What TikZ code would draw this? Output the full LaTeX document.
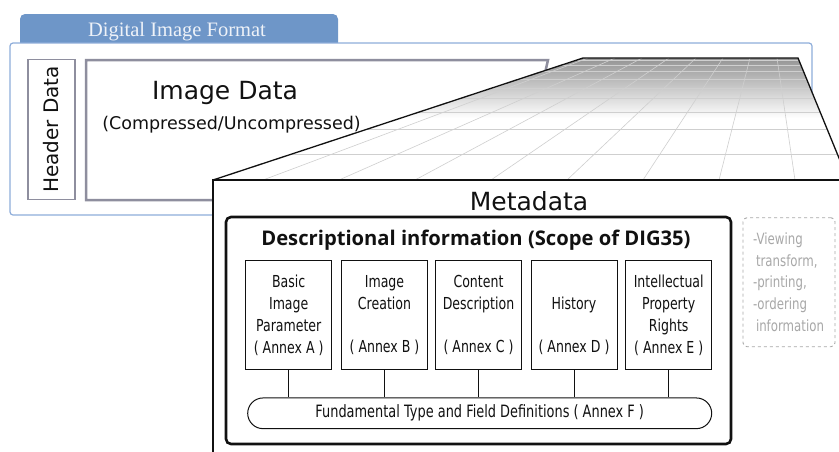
\documentclass[tikz,border=0pt]{standalone}
\usepackage{fontspec}
\usepackage{xcolor}
\usepackage{tikz}
\usetikzlibrary{positioning,calc,shapes.misc}
\newfontfamily\lgfont{DejaVu Sans}
\newfontfamily\cdfont[FakeStretch=0.76]{DejaVu Sans}
\newfontfamily\ttlfont{Open Sans}
\newfontfamily\tabfont{Liberation Serif}
\definecolor{inkK}{HTML}{111111}
\definecolor{cBlue}{HTML}{6E96C8}
\definecolor{lBlue}{HTML}{8EADDA}
\definecolor{tBlue}{HTML}{EEF2F8}
\definecolor{cGray}{HTML}{8E8E9E}
\definecolor{lGray}{HTML}{A8A8A8}
\definecolor{gLine}{HTML}{CFCFCF}

\begin{document}
\begin{tikzpicture}[x=1pt, y=-1pt,
  annexbox/.style={draw=inkK, line width=1pt, fill=white,
    minimum width=86pt, minimum height=109pt, inner sep=0pt,
    align=center, text=inkK, font=\cdfont\fontsize{16.5}{21.7}\selectfont},
  link/.style={draw=inkK, line width=1pt},
  gridline/.style={draw=gLine, line width=0.6pt}]
  \useasboundingbox (0,0) rectangle (839,451);
  \clip (0,0) rectangle (839,451);

  % file format frame with its tab
  \fill[cBlue, rounded corners=5pt] (20,52) -- (20,14) -- (338,14) -- (338,52) -- cycle;
  \node[anchor=base, font=\tabfont\fontsize{20.5}{22}\selectfont, text=tBlue]
    (fmt) at (177,36) {Digital Image Format};
  \draw[lBlue, fill=white, line width=1.2pt, rounded corners=3pt] (10,43) rectangle (812,215);

  \node[draw=cGray, line width=1.4pt, rotate=90, minimum width=140pt, minimum height=47pt,
        inner sep=0pt, font=\lgfont\fontsize{20}{22}\selectfont, text=inkK]
    (header) at (51.5,129.5) {Header Data};
  \draw[cGray, line width=2.5pt] (86,200) -- (86,60) -- (548,60) -- (525,160) -- (500,200) -- cycle;
  \node[anchor=base, font=\lgfont\fontsize{25}{27}\selectfont, text=inkK]
    (img) at (225,99.5) {Image Data};
  \node[anchor=base, font=\lgfont\fontsize{17.5}{19}\selectfont, text=inkK]
    (comp) at (231.5,129.3) {(Compressed/Uncompressed)};

  % perspective plane
  \begin{scope}
    \clip (583,58) -- (798,58) -- (848,180) -- (213,180) -- cycle;
    \fill[white] (200,50) rectangle (850,185);
    \shade[top color=black!42, bottom color=white] (200,58) rectangle (850,118);
    \foreach \k in {0,...,7}
      \draw[gridline] ({777-27*\k},58) -- ({795-76*\k},180);
    \foreach \yy in {60,65,71,79,88,98,112,129,154}
      \draw[gridline] (200,\yy) -- (850,\yy);
  \end{scope}
  \draw[inkK, line width=1.3pt] (213,180) -- (583,58) -- (798,58) -- (848,180);

  % metadata
  \draw[inkK, fill=white, line width=1.4pt] (213,460) -- (213,180) -- (850,180) -- (850,460);
  \node[anchor=base, font=\lgfont\fontsize{25}{27}\selectfont, text=inkK]
    (meta) at (529,210.7) {Metadata};

  \node[draw=inkK, line width=2.6pt, rounded corners=5pt,
        minimum width=505pt, minimum height=227pt] (desc) at (478.5,330.5) {};
  \node[anchor=base, font=\ttlfont\bfseries\fontsize{20.2}{22}\selectfont, text=inkK]
    (descT) at (476,245) {Descriptional information (Scope of DIG35)};

  \node[annexbox] (annA) at (288.7,315.3) {Basic\\Image\\Parameter\\( Annex A )};
  \node[annexbox] (annB) at (384.5,315.3) {Image\\Creation\\\phantom{X}\\( Annex B )};
  \node[annexbox] (annC) at (478.5,315.3) {Content\\Description\\\phantom{X}\\( Annex C )};
  \node[annexbox] (annD) at (574,315.3) {\phantom{X}\\History\\\phantom{X}\\( Annex D )};
  \node[annexbox] (annE) at (668.7,315.3) {Intellectual\\Property\\Rights\\( Annex E )};

  \node[draw=inkK, line width=1pt, rounded rectangle, minimum width=464pt, minimum height=30.7pt,
        inner sep=0pt, text=inkK, font=\cdfont\fontsize{17}{19}\selectfont]
    (fund) at (479.7,413.3) {Fundamental Type and Field Definitions ( Annex F )};
  \foreach \b in {annA,annB,annC,annD,annE}
    \draw[link] (\b.south) -- (\b.south |- fund.north);

  % outside the scope
  \node[draw=lGray, dashed, line width=0.9pt, rounded corners=4pt,
        minimum width=92pt, minimum height=129pt, text width=72pt, inner xsep=10pt,
        align=left, text=lGray, font=\cdfont\fontsize{15.5}{21.7}\selectfont]
    (other) at (789,282.2) {-Viewing\\\hspace*{3pt}transform,\\-printing,\\-ordering\\\hspace*{3pt}information};
\end{tikzpicture}
\end{document}
